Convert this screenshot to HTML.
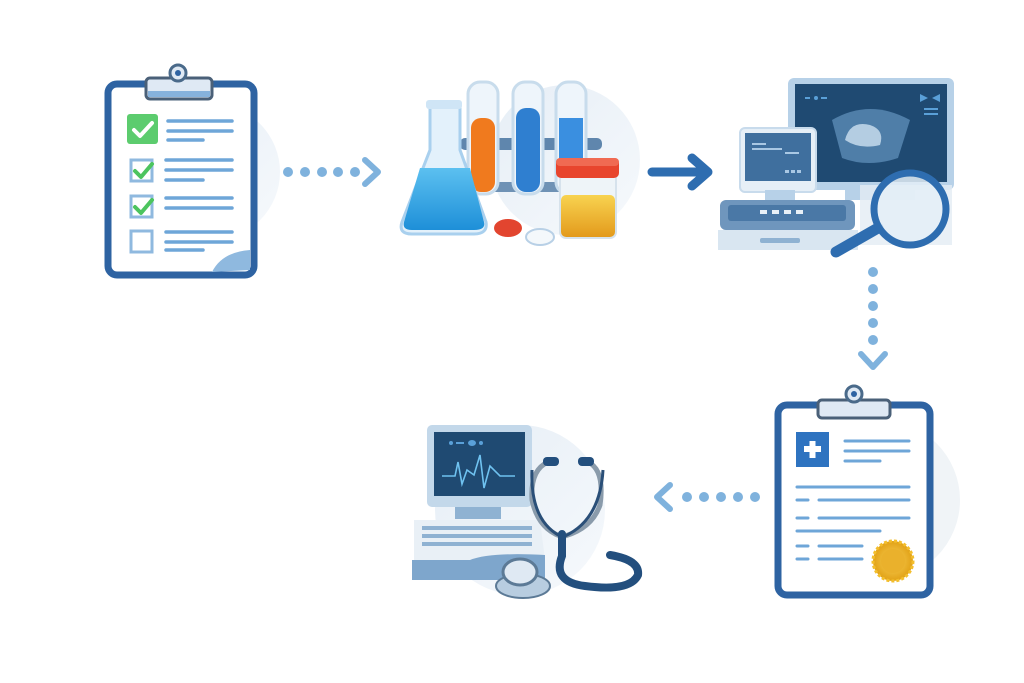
<!DOCTYPE html>
<html><head><meta charset="utf-8"><style>html,body{margin:0;padding:0;background:#fff}svg{display:block}</style></head>
<body>
<svg width="1024" height="683" viewBox="0 0 1024 683" xmlns="http://www.w3.org/2000/svg">
<defs>
<linearGradient id="bgc" x1="0" y1="0" x2="1" y2="1"><stop offset="0" stop-color="#e6eef6"/><stop offset="1" stop-color="#f6f9fc"/></linearGradient>
<linearGradient id="fl" x1="0" y1="0" x2="0" y2="1"><stop offset="0" stop-color="#5cc0f0"/><stop offset="1" stop-color="#1e8fd8"/></linearGradient>
<linearGradient id="jar" x1="0" y1="0" x2="0" y2="1"><stop offset="0" stop-color="#f8d350"/><stop offset="1" stop-color="#e39a1c"/></linearGradient>
<radialGradient id="seal"><stop offset="0" stop-color="#fbd35a"/><stop offset="1" stop-color="#e1a116"/></radialGradient>
</defs>
<circle cx="212" cy="172" r="68" fill="url(#bgc)"/>
<circle cx="565" cy="160" r="75" fill="url(#bgc)"/>
<circle cx="520" cy="510" r="85" fill="url(#bgc)"/>
<circle cx="880" cy="500" r="80" fill="#f0f4f7"/>

<!-- Clipboard 1 -->
<rect x="108" y="84" width="146" height="191" rx="9" fill="#fff" stroke="#2e63a2" stroke-width="7"/>
<path d="M212 272 Q222 252 250 250 L250 270 Z" fill="#8fb9df"/>
<rect x="146" y="78" width="66" height="21" rx="4" fill="#dfe9f4" stroke="#4a6078" stroke-width="3"/>
<rect x="148" y="91" width="62" height="6" fill="#86b2dc"/>
<circle cx="178" cy="73" r="8" fill="#dfe9f4" stroke="#4a6a8a" stroke-width="3"/>
<circle cx="178" cy="73" r="3" fill="#2e63a2"/>
<rect x="127" y="114" width="31" height="30" rx="3" fill="#5ccc6e"/>
<path d="M134 130 l6 6 l12 -13" fill="none" stroke="#fff" stroke-width="4" stroke-linecap="round" stroke-linejoin="round"/>
<g stroke="#6ea6d8" stroke-width="3.5" stroke-linecap="round">
<line x1="168" y1="121" x2="232" y2="121"/><line x1="168" y1="131" x2="232" y2="131"/><line x1="168" y1="140" x2="203" y2="140"/>
<line x1="166" y1="160" x2="232" y2="160"/><line x1="166" y1="170" x2="232" y2="170"/><line x1="166" y1="180" x2="203" y2="180"/>
<line x1="166" y1="198" x2="232" y2="198"/><line x1="166" y1="208" x2="232" y2="208"/>
<line x1="166" y1="232" x2="232" y2="232"/><line x1="166" y1="242" x2="232" y2="242"/><line x1="166" y1="250" x2="203" y2="250"/>
</g>
<g fill="none" stroke="#8fb9df" stroke-width="3">
<rect x="131" y="160" width="21" height="21"/><rect x="131" y="196" width="21" height="21"/><rect x="131" y="231" width="21" height="21"/>
</g>
<g fill="none" stroke="#4cc45e" stroke-width="4" stroke-linecap="round" stroke-linejoin="round">
<path d="M135 171 l6 6 l11 -13"/><path d="M135 207 l6 6 l11 -13"/>
</g>
<g fill="#7fb2dd"><circle cx="288" cy="172" r="5"/><circle cx="305" cy="172" r="5"/><circle cx="322" cy="172" r="5"/><circle cx="338" cy="172" r="5"/><circle cx="355" cy="172" r="5"/></g>
<path d="M365 160 L378 172 L365 184" fill="none" stroke="#7fb2dd" stroke-width="6" stroke-linecap="round" stroke-linejoin="round"/>

<!-- Lab -->
<rect x="460" y="138" width="142" height="12" rx="5" fill="#5f86ad"/>
<rect x="470" y="182" width="125" height="10" rx="4" fill="#6f92b5"/>
<g stroke="#c8dcec" stroke-width="3">
<rect x="468" y="82" width="30" height="112" rx="12" fill="#eef5fb"/>
<rect x="513" y="82" width="30" height="112" rx="12" fill="#eef5fb"/>
<rect x="556" y="82" width="30" height="112" rx="12" fill="#eef5fb"/>
</g>
<rect x="471" y="118" width="24" height="74" rx="10" fill="#f07a1e"/>
<rect x="516" y="108" width="24" height="84" rx="10" fill="#2f7fd0"/>
<rect x="559" y="118" width="24" height="50" fill="#3a8fe0"/>
<path d="M430 104 L460 104 L460 150 L486 222 Q488 234 474 234 L412 234 Q398 234 402 222 L430 150 Z" fill="#e3f1fb" stroke="#a9d0ee" stroke-width="3"/>
<path d="M420 168 L470 168 L484 222 Q486 230 474 230 L412 230 Q402 230 404 222 Z" fill="url(#fl)"/>
<rect x="426" y="100" width="36" height="9" rx="3" fill="#cfe5f6"/>
<rect x="560" y="170" width="56" height="68" rx="6" fill="#eef4f8" stroke="#d6e2ec" stroke-width="2"/>
<rect x="561" y="195" width="54" height="42" rx="5" fill="url(#jar)"/>
<rect x="556" y="158" width="63" height="20" rx="5" fill="#e8452d"/>
<rect x="556" y="158" width="63" height="8" rx="4" fill="#f06a52"/>
<ellipse cx="508" cy="228" rx="14" ry="9" fill="#e2452f"/>
<ellipse cx="540" cy="237" rx="14" ry="8" fill="#f4f8fb" stroke="#b8d0e6" stroke-width="2"/>
<line x1="652" y1="172" x2="700" y2="172" stroke="#2e6db0" stroke-width="9" stroke-linecap="round"/>
<path d="M692 158 L708 172 L692 186" fill="none" stroke="#2e6db0" stroke-width="9" stroke-linecap="round" stroke-linejoin="round"/>

<!-- ultrasound -->
<rect x="788" y="78" width="166" height="112" rx="6" fill="#b7d1e8"/>
<rect x="795" y="84" width="152" height="98" fill="#1f4a72"/>
<path d="M832 120 Q870 98 910 120 L898 158 Q868 168 842 158 Z" fill="#4f7ea8"/>
<path d="M845 140 Q850 120 870 125 Q885 130 880 145 Q860 150 845 140 Z" fill="#b4cde2"/>
<g fill="#5aa0d8"><rect x="805" y="97" width="5" height="2"/><circle cx="816" cy="98" r="2"/><rect x="821" y="97" width="6" height="2"/><path d="M920 94 l8 4 l-8 4z"/><path d="M940 94 l-8 4 l8 4z"/><rect x="924" y="108" width="14" height="2"/><rect x="924" y="113" width="14" height="2"/></g>
<rect x="845" y="188" width="70" height="12" fill="#b7d1e8"/>
<rect x="740" y="128" width="76" height="64" rx="5" fill="#e6eff7" stroke="#c8dbec" stroke-width="2"/>
<rect x="745" y="133" width="66" height="48" fill="#3f6f9e"/>
<g fill="#a9c8e4"><rect x="752" y="143" width="14" height="2"/><rect x="752" y="148" width="30" height="2"/><rect x="785" y="152" width="14" height="2"/><rect x="785" y="170" width="4" height="3"/><rect x="791" y="170" width="4" height="3"/><rect x="797" y="170" width="4" height="3"/></g>
<rect x="765" y="190" width="30" height="10" fill="#b7d1e8"/>
<rect x="720" y="200" width="135" height="30" rx="6" fill="#6f96bd"/>
<rect x="728" y="205" width="118" height="16" rx="3" fill="#4a78a6"/>
<g fill="#e8f0f7"><rect x="760" y="210" width="7" height="4"/><rect x="772" y="210" width="7" height="4"/><rect x="784" y="210" width="7" height="4"/><rect x="796" y="210" width="7" height="4"/></g>
<rect x="718" y="230" width="140" height="20" fill="#d9e6f1"/>
<rect x="760" y="238" width="40" height="5" rx="2" fill="#8fb2d2"/>
<rect x="860" y="185" width="92" height="60" fill="#e3ecf4" opacity="0.8"/>
<line x1="878" y1="228" x2="836" y2="252" stroke="#2e6db0" stroke-width="11" stroke-linecap="round"/>
<circle cx="910" cy="209" r="36" fill="#e4eef7" fill-opacity="0.85" stroke="#2e6db0" stroke-width="7"/>
<g fill="#7fb2dd"><circle cx="873" cy="272" r="5"/><circle cx="873" cy="289" r="5"/><circle cx="873" cy="306" r="5"/><circle cx="873" cy="323" r="5"/><circle cx="873" cy="340" r="5"/></g>
<path d="M861 354 L873 367 L885 354" fill="none" stroke="#7fb2dd" stroke-width="6" stroke-linecap="round" stroke-linejoin="round"/>

<!-- Report clipboard -->
<rect x="778" y="405" width="152" height="190" rx="9" fill="#fff" stroke="#2e63a2" stroke-width="7"/>
<rect x="818" y="400" width="72" height="18" rx="4" fill="#dfe9f4" stroke="#4a6078" stroke-width="3"/>
<circle cx="854" cy="394" r="8" fill="#dfe9f4" stroke="#4a6a8a" stroke-width="3"/>
<circle cx="854" cy="394" r="3" fill="#2e63a2"/>
<rect x="796" y="432" width="33" height="35" fill="#2e73c0"/>
<path d="M804 449 h17 M812.5 441 v17" stroke="#fff" stroke-width="6"/>
<g stroke="#6ea6d8" stroke-width="3" stroke-linecap="round">
<line x1="845" y1="441" x2="909" y2="441"/><line x1="845" y1="451" x2="909" y2="451"/><line x1="845" y1="461" x2="880" y2="461"/>
<line x1="797" y1="487" x2="909" y2="487"/>
<line x1="797" y1="500" x2="808" y2="500"/><line x1="819" y1="500" x2="909" y2="500"/>
<line x1="797" y1="518" x2="808" y2="518"/><line x1="819" y1="518" x2="909" y2="518"/>
<line x1="797" y1="531" x2="880" y2="531"/>
<line x1="797" y1="546" x2="808" y2="546"/><line x1="819" y1="546" x2="862" y2="546"/>
<line x1="797" y1="559" x2="808" y2="559"/><line x1="819" y1="559" x2="862" y2="559"/>
</g>
<circle cx="893" cy="561" r="20" fill="url(#seal)" stroke="#f3be2c" stroke-width="3" stroke-dasharray="3 2"/>
<circle cx="893" cy="561" r="12" fill="#eab12c"/>
<g fill="#7fb2dd"><circle cx="755" cy="497" r="5"/><circle cx="738" cy="497" r="5"/><circle cx="721" cy="497" r="5"/><circle cx="704" cy="497" r="5"/><circle cx="687" cy="497" r="5"/></g>
<path d="M670 485 L657 497 L670 509" fill="none" stroke="#7fb2dd" stroke-width="6" stroke-linecap="round" stroke-linejoin="round"/>

<!-- monitor + stethoscope -->
<rect x="427" y="425" width="105" height="82" rx="5" fill="#c3d8ea"/>
<rect x="434" y="432" width="91" height="64" fill="#1f4a72"/>
<polyline points="442,476 455,476 458,462 462,484 467,470 474,475 480,455 484,488 490,466 500,476 515,476" fill="none" stroke="#6fc2f0" stroke-width="1.6"/>
<g fill="#5aa0d8"><circle cx="451" cy="443" r="2"/><rect x="456" y="442" width="8" height="2"/><ellipse cx="472" cy="443" rx="4" ry="3"/><circle cx="481" cy="443" r="2"/></g>
<rect x="455" y="507" width="46" height="12" fill="#8fb2d2"/>
<path d="M414 520 L540 520 L545 560 L414 560 Z" fill="#e9f0f6"/>
<g fill="#8fb2d2"><rect x="422" y="526" width="110" height="4"/><rect x="422" y="534" width="110" height="4"/><rect x="422" y="542" width="110" height="4"/></g>
<path d="M412 560 L470 560 Q490 552 545 555 L545 580 L412 580 Z" fill="#7ea6cc"/>
<path d="M548 462 Q530 470 532 500 Q538 528 560 536 M588 462 Q605 470 600 505 Q592 528 565 536" fill="none" stroke="#8a9bab" stroke-width="5"/>
<path d="M532 470 Q530 520 560 536 M603 470 Q600 520 565 536" fill="none" stroke="#2a4f78" stroke-width="3"/>
<path d="M562 534 L562 556 Q552 582 585 586 Q630 592 638 575 Q640 560 610 555" fill="none" stroke="#234f7e" stroke-width="8" stroke-linecap="round"/>
<rect x="543" y="457" width="16" height="9" rx="4" fill="#234f7e"/><rect x="578" y="457" width="16" height="9" rx="4" fill="#234f7e"/>
<ellipse cx="523" cy="586" rx="27" ry="12" fill="#b8cde0" stroke="#5c7a96" stroke-width="2"/>
<ellipse cx="520" cy="572" rx="17" ry="13" fill="#dfe9f3" stroke="#5c7a96" stroke-width="3"/>
</svg>
</body></html>
